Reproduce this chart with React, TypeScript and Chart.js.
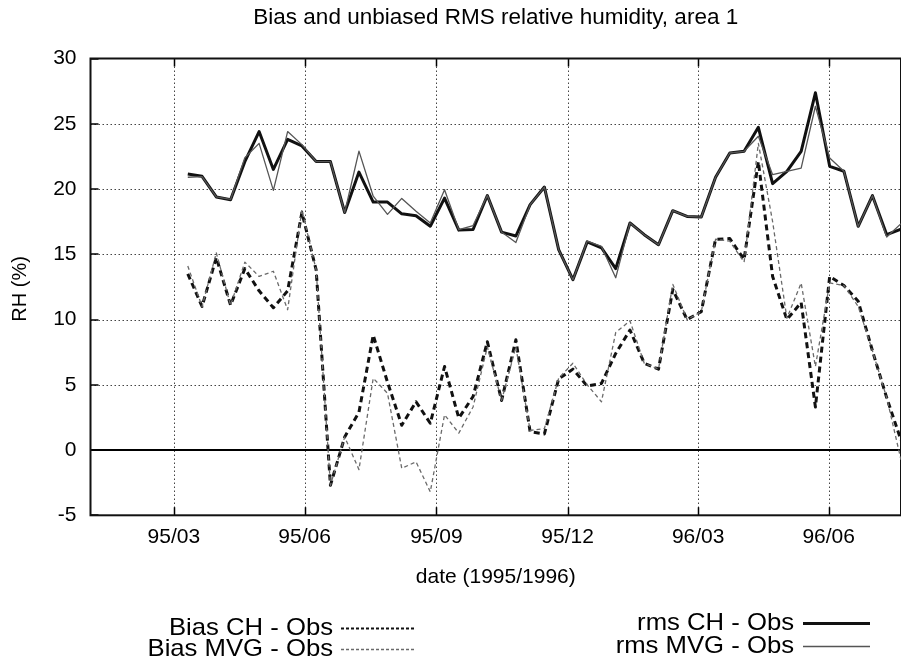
import React, { useEffect, useRef } from 'react';
import { Chart, registerables } from 'chart.js';

Chart.register(...registerables);

const FONT = '"Liberation Sans", Arial, Helvetica, sans-serif';

// ---- data (one value per ~10-day period, index 0..50) ----
const biasCH = [
  13.5, 11.0, 14.75, 11.1, 13.9, 12.2, 10.9, 12.2, 18.2, 13.8,
  -2.7, 1.0, 2.9, 8.8, 5.2, 1.9, 3.7, 2.05, 6.4, 2.45,
  4.1, 8.3, 3.8, 8.45, 1.4, 1.23, 5.45, 6.2, 4.9, 5.1,
  7.4, 9.2, 6.65, 6.2, 12.3, 10.0, 10.6, 16.15, 16.2, 14.6,
  22.1, 13.3, 10.0, 11.3, 3.3, 13.3, 12.6, 11.4, 7.6, 4.0,
  0.75,
];
const biasMVG = [
  14.1, 11.0, 15.1, 11.1, 14.4, 13.3, 13.7, 10.75, 18.4, 13.8,
  -2.7, 1.0, -1.5, 5.5, 4.35, -1.4, -0.9, -3.2, 2.7, 1.3,
  3.3, 7.9, 3.8, 7.9, 1.5, 1.65, 5.5, 6.65, 5.0, 3.7,
  9.0, 9.9, 6.65, 6.2, 12.7, 10.0, 10.6, 16.15, 16.0, 14.4,
  23.5, 17.5, 10.1, 12.8, 6.4, 12.8, 12.6, 11.0, 7.6, 4.0,
  -0.75,
];
const rmsCH = [
  21.15, 20.97, 19.39, 19.18, 22.1, 24.4, 21.5, 23.8, 23.3, 22.1,
  22.1, 18.2, 21.3, 19.0, 19.0, 18.1, 17.95, 17.15, 19.3, 16.85,
  16.9, 19.5, 16.7, 16.4, 18.8, 20.15, 15.35, 13.05, 15.95, 15.5,
  13.9, 17.4, 16.5, 15.73, 18.34, 17.9, 17.85, 20.9, 22.76, 22.89,
  24.73, 20.41, 21.36, 22.89, 27.37, 21.74, 21.36, 17.14, 19.49, 16.5,
  16.93,
];
const rmsMVG = [
  20.9, 20.95, 19.4, 19.2, 22.4, 23.5, 19.9, 24.4, 23.4, 22.1,
  22.1, 18.2, 22.9, 19.45, 18.06, 19.28, 18.3, 17.4, 19.95, 16.88,
  17.2, 19.5, 16.7, 15.9, 18.8, 20.15, 15.35, 13.05, 16.0, 15.6,
  13.2, 17.4, 16.5, 15.73, 18.34, 17.9, 17.85, 20.9, 22.76, 22.89,
  24.04, 21.1, 21.36, 21.6, 26.34, 22.38, 21.36, 17.14, 19.49, 16.32,
  17.34,
];

// x tick positions (in period index units) and their labels
const xTickPos = [-0.98, 8.19, 17.43, 26.63, 35.78, 44.93];
const xTickLabels = ['95/03', '95/06', '95/09', '95/12', '96/03', '96/06'];
const yTickValues = [-5, 0, 5, 10, 15, 20, 25, 30];
const X_MIN = -6.82;
const X_MAX = 50;
const Y_MIN = -5;
const Y_MAX = 30;

const TITLE = 'Bias and unbiased RMS relative humidity, area 1';
const X_TITLE = 'date (1995/1996)';
const Y_TITLE = 'RH (%)';

const toPts = (arr: number[]) => arr.map((y, i) => ({ x: i, y }));

const STYLE = {
  biasCH: { color: '#111111', width: 3, dash: [6, 4] },
  biasMVG: { color: '#6a6a6a', width: 1.3, dash: [4, 3] },
  rmsCH: { color: '#111111', width: 3, dash: [] as number[] },
  rmsMVG: { color: '#555555', width: 1.3, dash: [] as number[] },
};

function stretchedText(ctx: any, text: string, x: number, y: number, sx: number, align: 'left' | 'center' | 'right') {
  ctx.save();
  ctx.translate(x, y);
  ctx.scale(sx, 1);
  ctx.textAlign = align;
  ctx.fillText(text, 0, 0);
  ctx.restore();
}

const framePlugin = {
  id: 'frame',
  beforeDatasetsDraw(chart: any) {
    const { ctx, chartArea } = chart;
    const { left, right, top, bottom } = chartArea;
    const xs = chart.scales.x;
    const ys = chart.scales.y;
    ctx.save();
    ctx.strokeStyle = '#444';
    ctx.lineWidth = 1;
    ctx.setLineDash([1.5, 2.5]);
    for (const v of yTickValues) {
      if (v === Y_MIN || v === Y_MAX) continue;
      const py = Math.round(ys.getPixelForValue(v)) + 0.5;
      ctx.beginPath();
      ctx.moveTo(left, py);
      ctx.lineTo(right, py);
      ctx.stroke();
    }
    for (const p of xTickPos) {
      const px = Math.round(xs.getPixelForValue(p)) + 0.5;
      ctx.beginPath();
      ctx.moveTo(px, top);
      ctx.lineTo(px, bottom);
      ctx.stroke();
    }
    ctx.setLineDash([]);
    ctx.strokeStyle = '#000';
    ctx.lineWidth = 2;
    const y0 = Math.round(ys.getPixelForValue(0));
    ctx.beginPath();
    ctx.moveTo(left, y0);
    ctx.lineTo(right, y0);
    ctx.stroke();
    ctx.lineWidth = 1.5;
    const TL = 8;
    for (const v of yTickValues) {
      const py = Math.round(ys.getPixelForValue(v));
      ctx.beginPath();
      ctx.moveTo(left, py);
      ctx.lineTo(left + TL, py);
      ctx.stroke();
    }
    for (const p of xTickPos) {
      const px = Math.round(xs.getPixelForValue(p)) + 0.5;
      ctx.beginPath();
      ctx.moveTo(px, bottom);
      ctx.lineTo(px, bottom - TL);
      ctx.moveTo(px, top);
      ctx.lineTo(px, top + TL);
      ctx.stroke();
    }
    ctx.lineWidth = 2;
    ctx.strokeStyle = '#111';
    ctx.strokeRect(left, top, right - left, bottom - top);
    ctx.restore();
  },
  afterDraw(chart: any) {
    const { ctx, chartArea } = chart;
    const { left, right, top, bottom } = chartArea;
    ctx.save();
    ctx.fillStyle = '#000';
    ctx.textBaseline = 'middle';
    const cx = (left + right) / 2;
    ctx.font = `22.5px ${FONT}`;
    ctx.textAlign = 'center';
    ctx.fillText(TITLE, cx, 18);
    ctx.font = `21px ${FONT}`;
    ctx.fillText(X_TITLE, cx, 577);
    ctx.save();
    ctx.translate(20, (top + bottom) / 2 + 2);
    ctx.rotate(-Math.PI / 2);
    ctx.font = `20px ${FONT}`;
    ctx.fillText(Y_TITLE, 0, 0);
    ctx.restore();

    const entries = [
      { label: 'Bias CH - Obs', st: STYLE.biasCH, tx: 333, y: 628, x1: 341, x2: 415, w: 2 },
      { label: 'Bias MVG - Obs', st: STYLE.biasMVG, tx: 333, y: 649, x1: 341, x2: 415, w: 1.3 },
      { label: 'rms CH - Obs', st: STYLE.rmsCH, tx: 794, y: 623, x1: 803, x2: 870, w: 3 },
      { label: 'rms MVG - Obs', st: STYLE.rmsMVG, tx: 794, y: 646, x1: 803, x2: 870, w: 1.3 },
    ];
    ctx.font = `24px ${FONT}`;
    for (const e of entries) {
      ctx.fillStyle = '#000';
      stretchedText(ctx, e.label, e.tx, e.y, 1.07, 'right');
      ctx.strokeStyle = e.st.color;
      ctx.lineWidth = e.w;
      ctx.setLineDash(e.st.dash.length ? [3, 2] : []);
      ctx.beginPath();
      ctx.moveTo(e.x1, Math.round(e.y) + 0.5);
      ctx.lineTo(e.x2, Math.round(e.y) + 0.5);
      ctx.stroke();
    }
    ctx.restore();
  },
};

export default function App() {
  const ref = useRef<HTMLCanvasElement | null>(null);

  useEffect(() => {
    document.body.style.margin = '0';
    const canvas = ref.current;
    if (!canvas) return;
    const mk = (label: string, arr: number[], st: any) => ({
      label,
      data: toPts(arr),
      borderColor: st.color,
      backgroundColor: st.color,
      borderWidth: st.width,
      borderDash: st.dash,
      borderJoinStyle: 'round' as const,
      pointRadius: 0,
      tension: 0,
      fill: false,
    });
    const chart = new Chart(canvas, {
      type: 'line',
      data: {
        datasets: [
          mk('rms MVG - Obs', rmsMVG, STYLE.rmsMVG),
          mk('Bias MVG - Obs', biasMVG, STYLE.biasMVG),
          mk('rms CH - Obs', rmsCH, STYLE.rmsCH),
          mk('Bias CH - Obs', biasCH, STYLE.biasCH),
        ],
      },
      options: {
        animation: false,
        responsive: true,
        maintainAspectRatio: false,
        layout: { padding: { top: 58.5, left: 0, right: 0, bottom: 0 } },
        plugins: {
          legend: { display: false },
          title: { display: false },
          tooltip: { enabled: false },
        },
        scales: {
          x: {
            type: 'linear',
            min: X_MIN,
            max: X_MAX,
            grid: { display: false, drawTicks: false },
            border: { display: false },
            afterBuildTicks: (scale: any) => {
              scale.ticks = xTickPos.map((v) => ({ value: v }));
            },
            afterFit: (scale: any) => {
              scale.height = 143.7;
            },
            ticks: {
              autoSkip: false,
              maxRotation: 0,
              padding: 9,
              color: '#000',
              font: { family: FONT, size: 21 },
              callback: (_v: any, i: number) => xTickLabels[i],
            },
          },
          y: {
            type: 'linear',
            min: Y_MIN,
            max: Y_MAX,
            grid: { display: false, drawTicks: false },
            border: { display: false },
            afterBuildTicks: (scale: any) => {
              scale.ticks = yTickValues.map((v) => ({ value: v }));
            },
            afterFit: (scale: any) => {
              scale.width = 90.5;
            },
            ticks: {
              padding: 14,
              color: '#000',
              font: { family: FONT, size: 21 },
              callback: (v: any) => String(v),
            },
          },
        },
      },
      plugins: [framePlugin],
    });
    return () => chart.destroy();
  }, []);

  return (
    <div style={{ width: 901, height: 659, position: 'relative', background: '#fff' }}>
      <canvas ref={ref} />
    </div>
  );
}
